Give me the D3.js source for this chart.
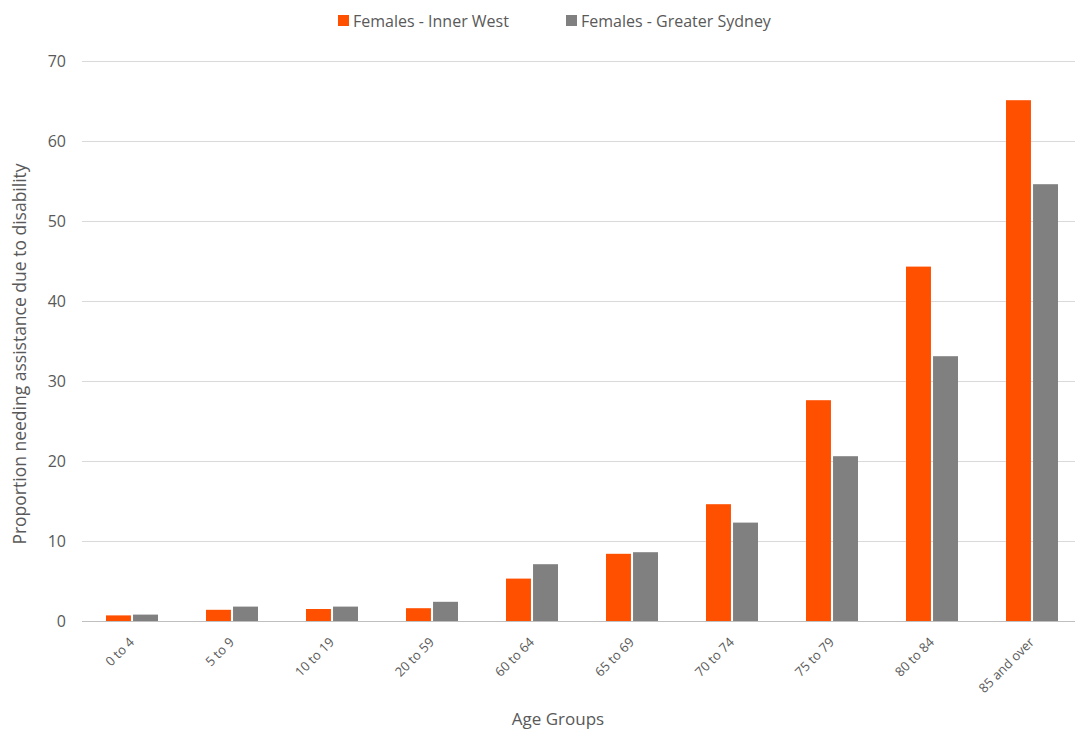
<!DOCTYPE html>
<html>
  <head>
    <meta charset="utf-8">
    <title>Females needing assistance due to disability</title>
    <script src="https://d3js.org/d3.v7.min.js"></script>
    <style>
      body { margin: 0; background: #fff; }
      text { font-family: "Open Sans", "Noto Sans", sans-serif; fill: #595959; }
    </style>
  </head>
  <body>
    <svg id="chart" width="1075" height="734"></svg>
    <script>
      // data
      categories = ["0 to 4", "5 to 9", "10 to 19", "20 to 59", "60 to 64", "65 to 69", "70 to 74", "75 to 79", "80 to 84", "85 and over"];
      innerWest = [0.7, 1.4, 1.5, 1.6, 5.3, 8.4, 14.6, 27.6, 44.3, 65.1];
      greaterSydney = [0.8, 1.8, 1.8, 2.4, 7.1, 8.6, 12.3, 20.6, 33.1, 54.6];
      seriesNames = ["Females - Inner West", "Females - Greater Sydney"];
      seriesColours = ["#ff5000", "#808080"];
      yTicks = [0, 10, 20, 30, 40, 50, 60, 70];

      svg = d3.select("#chart");
      // plot area (note: "top" is taken by window.top)
      plotLeft = 82; plotRight = 1082; plotTop = 61; plotBottom = 621;

      x = d3.scaleBand()
        .domain(categories)
        .range([plotLeft, plotRight]);
      sub = d3.scaleBand()
        .domain([0, 1])
        .range([24, 76])
        .paddingInner(4 / 52);
      y = d3.scaleLinear()
        .domain([0, 70])
        .range([plotBottom, plotTop]);

      // gridlines
      svg.append("g")
        .selectAll("line")
          .data(yTicks)
        .enter().append("line")
          .attr("x1", plotLeft)
          .attr("x2", plotRight)
          .attr("y1", function(d) { return y(d) + 0.5; })
          .attr("y2", function(d) { return y(d) + 0.5; })
          .style("stroke", function(d) { return d === 0 ? "#bfbfbf" : "#d9d9d9"; })
          .style("stroke-width", 1);

      // y tick labels
      svg.append("g")
        .selectAll("text")
          .data(yTicks)
        .enter().append("text")
          .attr("x", 66)
          .attr("y", function(d) { return y(d); })
          .attr("dy", "0.35em")
          .attr("text-anchor", "end")
          .style("font-size", "16px")
          .text(function(d) { return d; });

      // bars
      series = [innerWest, greaterSydney];
      series.forEach(function(values, i) {
        svg.append("g")
          .selectAll("rect")
            .data(values)
          .enter().append("rect")
            .attr("x", function(d, j) { return x(categories[j]) + sub(i); })
            .attr("width", sub.bandwidth())
            .attr("y", function(d) { return y(d); })
            .attr("height", function(d) { return y(0) - y(d); })
            .style("fill", seriesColours[i]);
      });

      // x tick labels
      svg.append("g")
        .selectAll("text")
          .data(categories)
        .enter().append("text")
          .attr("text-anchor", "end")
          .attr("transform", function(d) {
            return "translate(" + (x(d) + x.bandwidth() / 2 + 3) + "," + (plotBottom + 22) + ") rotate(-45)";
          })
          .style("font-size", "13px")
          .text(function(d) { return d; });

      // axis titles
      svg.append("text")
        .attr("x", 558)
        .attr("y", 725)
        .attr("text-anchor", "middle")
        .style("font-size", "17px")
        .text("Age Groups");
      svg.append("text")
        .attr("transform", "translate(26, 354) rotate(-90)")
        .attr("text-anchor", "middle")
        .style("font-size", "17.5px")
        .text("Proportion needing assistance due to disability");

      // legend
      legendX = [338, 566];
      seriesNames.forEach(function(name, i) {
        let g = svg.append("g")
          .attr("transform", "translate(" + legendX[i] + ", 15)");
        g.append("rect")
          .attr("width", 11)
          .attr("height", 11)
          .style("fill", seriesColours[i]);
        g.append("text")
          .attr("x", 15)
          .attr("y", 6)
          .attr("dy", "0.35em")
          .style("font-size", "16px")
          .text(name);
      });
    </script>
  </body>
</html>
